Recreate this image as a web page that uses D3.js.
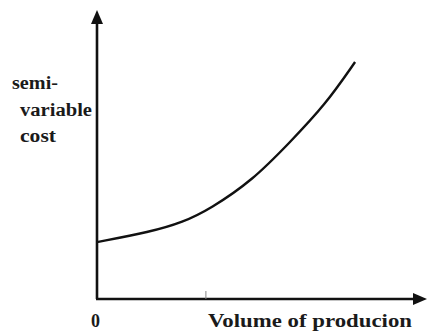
<!DOCTYPE html>
<meta charset="utf-8">
<style>
body { margin: 0; background: #fff; }
</style>
<body>
<script src="https://cdnjs.cloudflare.com/ajax/libs/d3/7.8.5/d3.min.js"></script>
<script>
// curve (axis units 0..100)
var volume = [0, 16.1, 26.1, 34.2, 47.3, 58.5, 69.1, 78.2]
var cost   = [19.7, 23.2, 26.6, 31.1, 41.2, 54.3, 67.1, 82.0]
var tickAt = [33]
var yLabel = ["semi-", "variable", "cost"]
var xLabel = "Volume of producion"

var width = 428, height = 332
var font = "'Liberation Serif', 'DejaVu Serif', serif"
var svg = d3.select("body").append("svg")
    .attr("width", width).attr("height", height)

var x = d3.scaleLinear().domain([0, 100]).range([97, 427])
var y = d3.scaleLinear().domain([0, 100]).range([299, 10])

// axes drawn as plain lines with arrow heads
svg.append("line")
    .attr("x1", x(0)).attr("x2", x(0))
    .attr("y1", y(0)).attr("y2", y(100) + 8)
    .attr("stroke", "#111").attr("stroke-width", 2.6)
svg.append("line")
    .attr("x1", x(0) - 1).attr("x2", x(100) - 8)
    .attr("y1", y(0)).attr("y2", y(0))
    .attr("stroke", "#111").attr("stroke-width", 2.6)

svg.append("path")
    .attr("d", "M" + x(0) + "," + y(100) + " l-6,14 l12,0 z")
    .attr("fill", "#111")
svg.append("path")
    .attr("d", "M" + x(100) + "," + y(0) + " l-14,-6 l0,12 z")
    .attr("fill", "#111")

svg.selectAll(".tick")
    .data(tickAt)
    .enter().append("line")
    .attr("x1", (d) => x(d)).attr("x2", (d) => x(d))
    .attr("y1", y(0)).attr("y2", y(0) - 8)
    .attr("stroke", "#888").attr("stroke-width", 1)

// smooth hand-drawn curve
var pts = volume.map((v, i) => [v, cost[i]])
var line = d3.line()
    .x((d) => x(d[0]))
    .y((d) => y(d[1]))
    .curve(d3.curveBasis)
svg.append("path")
    .datum(pts)
    .attr("d", line)
    .attr("fill", "none")
    .attr("stroke", "#111")
    .attr("stroke-width", 2.4)

// y label, three lines
var lx = [12, 20, 20], ly = [89, 116, 142], lw = [46, 72, 36]
svg.selectAll(".ylab")
    .data(yLabel)
    .enter().append("text")
    .attr("x", (d, i) => lx[i])
    .attr("y", (d, i) => ly[i])
    .attr("textLength", (d, i) => lw[i])
    .attr("lengthAdjust", "spacingAndGlyphs")
    .attr("font-family", font)
    .attr("font-weight", "bold")
    .attr("font-size", 18)
    .attr("fill", "#1a1a1a")
    .text((d) => d)

svg.append("text")
    .attr("x", 91).attr("y", 327)
    .attr("font-family", font)
    .attr("font-weight", "bold")
    .attr("font-size", 18)
    .attr("fill", "#1a1a1a")
    .text("0")
svg.append("text")
    .attr("x", 208).attr("y", 327)
    .attr("textLength", 204)
    .attr("lengthAdjust", "spacingAndGlyphs")
    .attr("font-family", font)
    .attr("font-weight", "bold")
    .attr("font-size", 19)
    .attr("fill", "#1a1a1a")
    .text(xLabel)
</script>
</body>
